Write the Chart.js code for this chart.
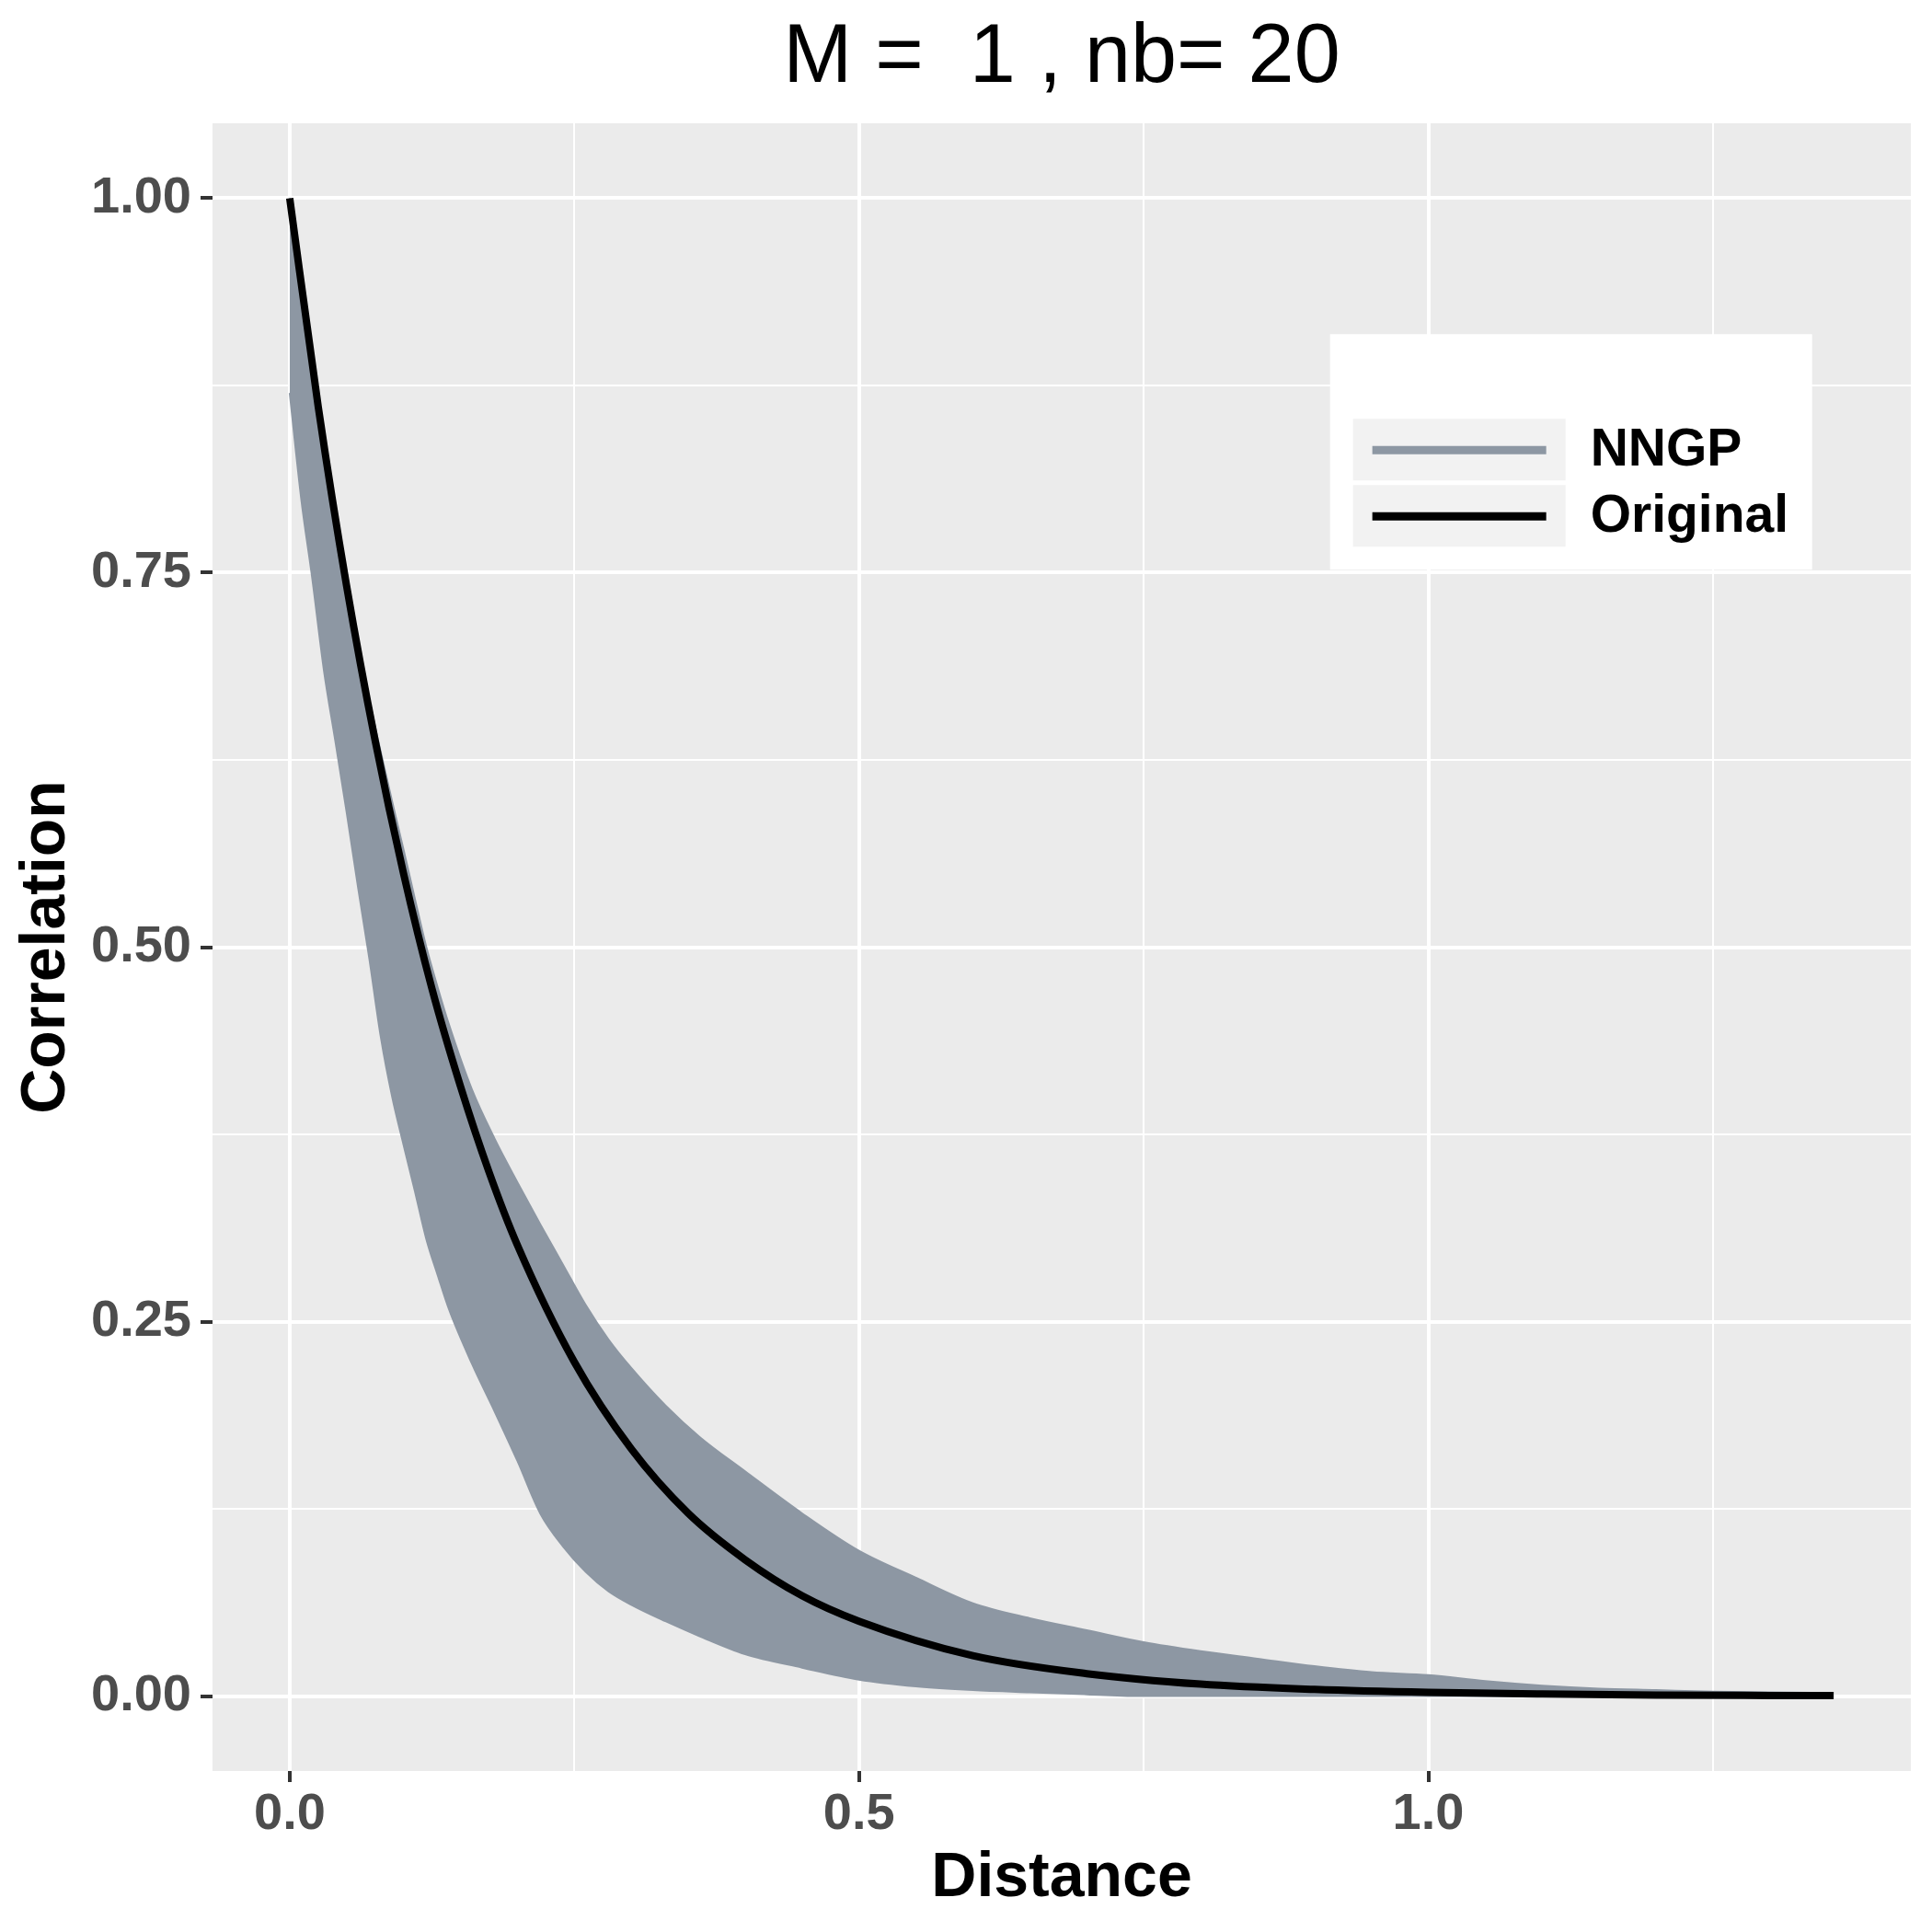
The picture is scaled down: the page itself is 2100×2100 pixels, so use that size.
<!DOCTYPE html>
<html>
<head>
<meta charset="utf-8">
<script src="https://cdn.jsdelivr.net/npm/chart.js@4.4.0/dist/chart.umd.min.js"></script>
<style>
  html, body { margin: 0; padding: 0; background: #fff; overflow: hidden; }
  canvas { display: block; }
</style>
</head>
<body>
<canvas id="chart" width="2100" height="2100"></canvas>
<script>
// NNGP cloud, read as an upper and a lower envelope
const bandDist  = [0, 0.01, 0.02, 0.03, 0.04, 0.05, 0.06, 0.07, 0.08, 0.09, 0.10, 0.11, 0.12, 0.13, 0.14, 0.16, 0.18, 0.20, 0.22, 0.24, 0.26, 0.28, 0.30, 0.33, 0.36, 0.40, 0.45, 0.50, 0.55, 0.60, 0.65, 0.70, 0.75, 0.80, 0.85, 0.90, 0.95, 1.00, 1.05, 1.10, 1.15, 1.20, 1.25, 1.30, 1.356];
const bandUpper = [1.00, 0.945, 0.89, 0.84, 0.79, 0.75, 0.705, 0.665, 0.63, 0.597, 0.565, 0.532, 0.50, 0.473, 0.448, 0.405, 0.372, 0.343, 0.315, 0.288, 0.261, 0.238, 0.219, 0.194, 0.173, 0.150, 0.122, 0.097, 0.079, 0.062, 0.052, 0.044, 0.036, 0.030, 0.025, 0.020, 0.016, 0.014, 0.010, 0.007, 0.005, 0.004, 0.003, 0.0025, 0.002];
const bandLower = [0.87, 0.80, 0.745, 0.685, 0.638, 0.59, 0.54, 0.492, 0.44, 0.40, 0.368, 0.337, 0.305, 0.281, 0.258, 0.222, 0.19, 0.157, 0.122, 0.10, 0.083, 0.07, 0.061, 0.05, 0.04, 0.028, 0.019, 0.011, 0.0065, 0.004, 0.0025, 0.0012, 0, 0, 0, 0, 0, 0, 0, 0, 0, 0, 0, 0, 0];

// original correlation curve
const origDist = [0, 0.025, 0.05, 0.075, 0.10, 0.125, 0.15, 0.175, 0.20, 0.25, 0.30, 0.35, 0.40, 0.45, 0.50, 0.60, 0.70, 0.80, 0.90, 1.00, 1.10, 1.20, 1.30, 1.356];
const origCorr = [1.00, 0.861, 0.741, 0.638, 0.549, 0.472, 0.407, 0.350, 0.301, 0.223, 0.165, 0.122, 0.091, 0.067, 0.050, 0.027, 0.015, 0.008, 0.0045, 0.0025, 0.0014, 0.0007, 0.0004, 0.0003];

const xMajor = [0, 0.5, 1.0];
const xMinor = [0.25, 0.75, 1.25];
const xLabels = ['0.0', '0.5', '1.0'];
const yMajor = [0, 0.25, 0.5, 0.75, 1.0];
const yMinor = [0.125, 0.375, 0.625, 0.875];
const yLabels = ['0.00', '0.25', '0.50', '0.75', '1.00'];

const FONT = "'Liberation Sans', Arial, Helvetica, sans-serif";
const NNGP_COL = '#8D97A3';

const pts = (xs, ys) => xs.map((x, i) => ({ x, y: ys[i] }));
const allTicks = (maj, min) => maj.concat(min).sort((a, b) => a - b).map(v => ({ value: v }));
const isMajor = (list, v) => list.some(m => Math.abs(m - v) < 1e-9);

const panelBg = {
  id: 'panelBg',
  beforeDraw(chart) {
    const { ctx, chartArea: a } = chart;
    ctx.save();
    ctx.fillStyle = '#fff';
    ctx.fillRect(0, 0, chart.width, chart.height);
    ctx.fillStyle = '#EBEBEB';
    ctx.fillRect(a.left, a.top, a.right - a.left, a.bottom - a.top);
    ctx.restore();
  }
};

// ggplot-style legend box inside the panel
const boxLegend = {
  id: 'boxLegend',
  afterDraw(chart) {
    const { ctx, chartArea: a } = chart;
    const w = a.right - a.left, h = a.bottom - a.top;
    const bx = a.left + 0.658 * w, by = a.top + 0.128 * h;
    const items = [
      { label: chart.data.datasets[1].label, color: NNGP_COL },
      { label: chart.data.datasets[0].label, color: chart.data.datasets[0].borderColor }
    ];
    ctx.save();
    ctx.fillStyle = '#fff';
    ctx.fillRect(bx, by, 524, 256);
    items.forEach((it, i) => {
      const ry = by + 92 + i * 72;
      ctx.fillStyle = '#F2F2F2';
      ctx.fillRect(bx + 25, ry, 231, 67);
      ctx.strokeStyle = it.color;
      ctx.lineWidth = 9;
      ctx.beginPath();
      ctx.moveTo(bx + 46, ry + 34);
      ctx.lineTo(bx + 235, ry + 34);
      ctx.stroke();
      ctx.fillStyle = '#000';
      ctx.font = 'bold 57px ' + FONT;
      ctx.textBaseline = 'middle';
      ctx.textAlign = 'left';
      ctx.fillText(it.label, bx + 283, ry + 35);
    });
    ctx.restore();
  }
};

new Chart(document.getElementById('chart').getContext('2d'), {
  type: 'line',
  data: {
    datasets: [
      { label: 'Original', data: pts(origDist, origCorr), borderColor: '#000', borderWidth: 8,
        pointRadius: 0, fill: false, cubicInterpolationMode: 'monotone' },
      { label: 'NNGP', data: pts(bandDist, bandUpper), borderColor: NNGP_COL, borderWidth: 2,
        backgroundColor: NNGP_COL, pointRadius: 0, fill: '+1', cubicInterpolationMode: 'monotone' },
      { label: 'NNGP low', data: pts(bandDist, bandLower), borderColor: NNGP_COL, borderWidth: 2,
        pointRadius: 0, fill: false, cubicInterpolationMode: 'monotone' }
    ]
  },
  options: {
    responsive: false,
    devicePixelRatio: 1,
    animation: false,
    layout: { padding: { left: 0, right: 23, top: 0, bottom: 0 } },
    plugins: {
      legend: { display: false },
      tooltip: { enabled: false },
      title: {
        display: true,
        fullSize: false,
        text: 'M =  1 , nb= 20',
        color: '#000',
        font: { family: FONT, size: 90, weight: 'normal', lineHeight: 1.2 },
        padding: { top: 10, bottom: 16 }
      }
    },
    scales: {
      x: {
        type: 'linear',
        min: -0.0678,
        max: 1.4238,
        afterFit: s => { s.height = 175; },
        afterBuildTicks: s => { s.ticks = allTicks(xMajor, xMinor); },
        border: { display: false },
        grid: {
          color: '#fff',
          lineWidth: c => isMajor(xMajor, c.tick.value) ? 4 : 2,
          tickColor: c => isMajor(xMajor, c.tick.value) ? '#333333' : 'rgba(0,0,0,0)',
          tickLength: 12,
          tickWidth: 4
        },
        ticks: {
          autoSkip: false,
          maxRotation: 0,
          padding: 2,
          color: '#4D4D4D',
          font: { family: FONT, size: 56, weight: 'bold' },
          callback: v => { const i = xMajor.findIndex(m => Math.abs(m - v) < 1e-9); return i >= 0 ? xLabels[i] : ''; }
        },
        title: {
          display: true,
          text: 'Distance',
          color: '#000',
          font: { family: FONT, size: 68, weight: 'bold', lineHeight: 1.2 },
          padding: { top: 17, bottom: 17 }
        }
      },
      y: {
        type: 'linear',
        min: -0.05,
        max: 1.05,
        afterFit: s => { s.width = 231; },
        afterBuildTicks: s => { s.ticks = allTicks(yMajor, yMinor); },
        border: { display: false },
        grid: {
          color: '#fff',
          lineWidth: c => isMajor(yMajor, c.tick.value) ? 4 : 2,
          tickColor: c => isMajor(yMajor, c.tick.value) ? '#333333' : 'rgba(0,0,0,0)',
          tickLength: 13,
          tickWidth: 4
        },
        ticks: {
          autoSkip: false,
          padding: 10,
          color: '#4D4D4D',
          font: { family: FONT, size: 56, weight: 'bold' },
          callback: v => { const i = yMajor.findIndex(m => Math.abs(m - v) < 1e-9); return i >= 0 ? yLabels[i] : ''; }
        },
        title: {
          display: true,
          text: 'Correlation',
          color: '#000',
          font: { family: FONT, size: 68, weight: 'bold', lineHeight: 1.2 },
          padding: { top: 10, bottom: 10 }
        }
      }
    }
  },
  plugins: [panelBg, boxLegend]
});
</script>
</body>
</html>
